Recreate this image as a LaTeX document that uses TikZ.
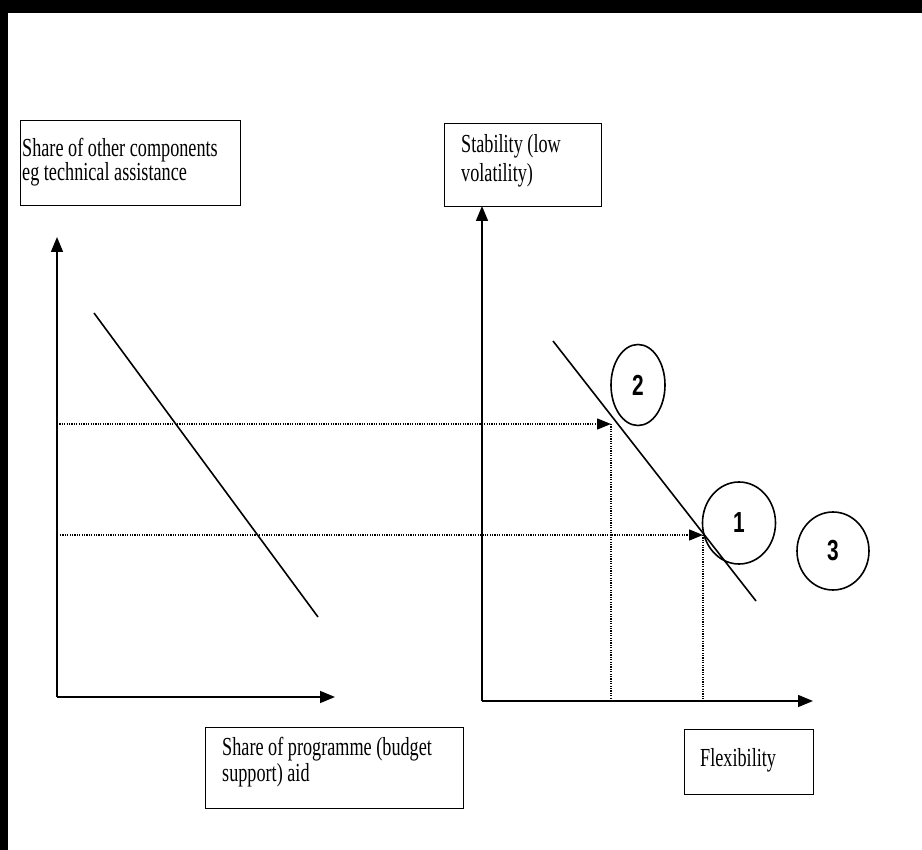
\documentclass[tikz,border=0pt]{standalone}
\usepackage{fontspec}
\setmainfont{Liberation Serif}
\newfontfamily\numfont{Liberation Sans}
\usetikzlibrary{arrows.meta,shapes.geometric}
\tikzset{
  box/.style={draw, line width=1.4pt, inner sep=0pt, anchor=north west},
  lbl/.style={inner sep=0pt, anchor=base west, font=\fontsize{26}{28}\selectfont},
  axis/.style={line width=1.6pt, -{Triangle[length=15pt,width=12pt]}},
  curve/.style={line width=1.6pt},
  guide/.style={line width=1.4pt, dash pattern=on 1.2pt off 1.2pt},
  guidearrow/.style={guide, -{Triangle[length=14pt,width=11pt]}},
  pt/.style={draw, ellipse, line width=1.6pt, inner sep=0pt},
  num/.style={font=\numfont\bfseries\fontsize{29}{29}\selectfont}
}
\newcommand{\dig}[1]{\scalebox{0.72}[1]{#1}}
\newcommand{\tx}[1]{\scalebox{0.7}[1]{#1}}
\begin{document}
\begin{tikzpicture}[x=1pt,y=-1pt]
\useasboundingbox (0,0) rectangle (922,850);
\fill[white] (0,0) rectangle (922,850);
\fill[black] (0,0) rectangle (922,13);
\fill[black] (0,0) rectangle (8,850);

% boxes
\node[box, minimum width=220pt, minimum height=85pt] (bl) at (20,120) {};
\node[lbl] (bla) at (22,157) {\tx{Share of other components}};
\node[lbl] (blb) at (22,181) {\tx{eg technical assistance}};

\node[box, minimum width=157pt, minimum height=83pt] (br) at (444,123) {};
\node[lbl] (bra) at (461,153) {\tx{Stability (low}};
\node[lbl] (brb) at (461,182) {\tx{volatility)}};

\node[box, minimum width=258pt, minimum height=81pt] (bb) at (205,727) {};
\node[lbl] (bba) at (222,755) {\tx{Share of programme (budget}};
\node[lbl] (bbb) at (222,781) {\tx{support) aid}};

\node[box, minimum width=129pt, minimum height=65pt] (bf) at (684,729) {};
\node[lbl] (bfa) at (700,766) {\tx{Flexibility}};

% left graph
\coordinate (o1) at (57,697);
\coordinate (y1) at (57,237);
\coordinate (x1) at (335,697);
\draw[axis] (o1) -- (y1);
\draw[axis] (o1) -- (x1);
\coordinate (d1a) at (94,313);
\coordinate (d1b) at (318,617);
\draw[curve] (d1a) -- (d1b);

% right graph
\coordinate (o2) at (482,701);
\coordinate (y2) at (482,206);
\coordinate (x2) at (813,701);
\draw[axis] (o2) -- (y2);
\draw[axis] (o2) -- (x2);
\coordinate (d2a) at (553,341);
\coordinate (d2b) at (756,601);
\draw[curve] (d2a) -- (d2b);

% guides
\coordinate (g1s) at (57,424);
\coordinate (g1e) at (611,424);
\coordinate (g2s) at (60,535);
\coordinate (g2e) at (703,535);
\coordinate (v1b) at (611,701);
\coordinate (v2b) at (703,701);
\draw[guidearrow] (g1s) -- (g1e);
\draw[guidearrow] (g2s) -- (g2e);
\draw[guide] (g1e) -- (v1b);
\draw[guide] (g2e) -- (v2b);

% points
\node[pt, minimum width=54pt, minimum height=81pt] (p2) at (638,385) {};
\node[num] (n2) at (p2.center) {\dig{2}};
\node[pt, minimum width=73pt, minimum height=82pt] (p1) at (739,523) {};
\node[num] (n1) at (p1.center) {\dig{1}};
\node[pt, minimum width=72pt, minimum height=78pt] (p3) at (833,551) {};
\node[num] (n3) at (p3.center) {\dig{3}};
\end{tikzpicture}
\end{document}
